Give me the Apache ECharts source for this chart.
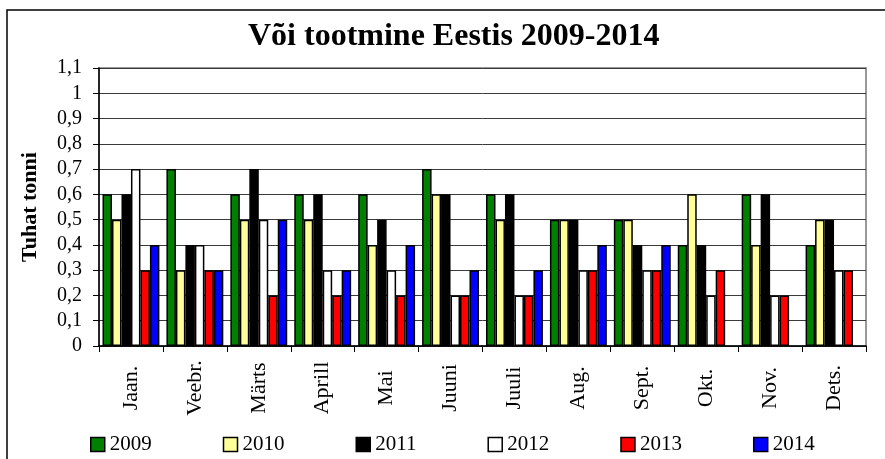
<!DOCTYPE html>
<html>
<head>
<meta charset="utf-8">
<script src="https://cdn.jsdelivr.net/npm/echarts@6/dist/echarts.min.js"></script>
<style>
html,body{margin:0;padding:0;background:#fff;}
#chart{width:885px;height:459px;}
</style>
</head>
<body>
<div id="chart"></div>
<script>
const months = ['Jaan.', 'Veebr.', 'Märts', 'Aprill', 'Mai', 'Juuni', 'Juuli', 'Aug.', 'Sept.', 'Okt.', 'Nov.', 'Dets.'];
const years = ['2009', '2010', '2011', '2012', '2013', '2014'];
const v2009 = [0.6, 0.7, 0.6, 0.6, 0.6, 0.7, 0.6, 0.5, 0.5, 0.4, 0.6, 0.4];
const v2010 = [0.5, 0.3, 0.5, 0.5, 0.4, 0.6, 0.5, 0.5, 0.5, 0.6, 0.4, 0.5];
const v2011 = [0.6, 0.4, 0.7, 0.6, 0.5, 0.6, 0.6, 0.5, 0.4, 0.4, 0.6, 0.5];
const v2012 = [0.7, 0.4, 0.5, 0.3, 0.3, 0.2, 0.2, 0.3, 0.3, 0.2, 0.2, 0.3];
const v2013 = [0.3, 0.3, 0.2, 0.2, 0.2, 0.2, 0.2, 0.3, 0.3, 0.3, 0.2, 0.3];
const v2014 = [0.4, 0.3, 0.5, 0.3, 0.4, 0.3, 0.3, 0.4, 0.4, null, null, null];
const yTickLabels = ['0', '0,1', '0,2', '0,3', '0,4', '0,5', '0,6', '0,7', '0,8', '0,9', '1', '1,1'];
const titleText = 'Või tootmine Eestis 2009-2014';
const yAxisTitle = 'Tuhat tonni';

const colors = ['#008000', '#FFFF99', '#000000', '#FFFFFF', '#FF0000', '#0000FF'];
const allValues = [v2009, v2010, v2011, v2012, v2013, v2014];
const FONT = '"Liberation Serif", "Times New Roman", serif';

const chart = echarts.init(document.getElementById('chart'), null, {renderer: 'canvas'});
chart.setOption({
  animation: false,
  backgroundColor: '#fff',
  title: {
    text: titleText,
    left: 248,
    top: 21,
    padding: 0,
    textStyle: {fontFamily: FONT, fontWeight: 'bold', fontSize: 32, color: '#000'}
  },
  graphic: [{
    type: 'rect',
    shape: {x: 7, y: 10, width: 900, height: 500},
    style: {fill: null, stroke: '#000', lineWidth: 1.5},
    silent: true
  }],
  legend: {
    data: years,
    left: 90,
    top: 434,
    padding: 0,
    itemWidth: 14,
    itemHeight: 14,
    itemGap: 71,
    icon: 'rect',
    itemStyle: {borderColor: '#000', borderWidth: 1.5},
    textStyle: {fontFamily: FONT, fontSize: 21, color: '#000', padding: [0, 0, 0, 0]}
  },
  grid: {
    left: 99, right: 19, top: 68, bottom: 113,
    show: true, borderColor: '#999', borderWidth: 2,
    containLabel: false
  },
  xAxis: {
    type: 'category',
    data: months,
    axisLine: {lineStyle: {color: '#000', width: 1.5}},
    axisTick: {show: true, length: 6, lineStyle: {color: '#000', width: 1}},
    axisLabel: {
      rotate: 90, align: 'center', verticalAlign: 'middle', margin: 42,
      fontFamily: FONT, fontSize: 22, color: '#000', interval: 0
    }
  },
  yAxis: {
    type: 'value',
    min: 0, max: 1.1, interval: 0.1,
    name: yAxisTitle,
    nameLocation: 'middle',
    nameGap: 58,
    nameTextStyle: {fontFamily: FONT, fontWeight: 'bold', fontSize: 22, color: '#000'},
    axisLine: {show: true, lineStyle: {color: '#000', width: 1.5}},
    axisTick: {show: true, length: 6, lineStyle: {color: '#000'}},
    axisLabel: {
      margin: 17,
      fontFamily: FONT, fontSize: 20, color: '#000',
      formatter: function (v) { return yTickLabels[Math.round(v * 10)]; }
    },
    splitLine: {show: true, lineStyle: {color: '#3a3a3a', width: 1}}
  },
  series: years.map(function (y, i) {
    return {
      name: y,
      type: 'bar',
      data: allValues[i],
      barGap: '0%',
      barCategoryGap: '11%',
      itemStyle: {color: colors[i], borderColor: '#000', borderWidth: 1.5}
    };
  })
});
</script>
</body>
</html>
